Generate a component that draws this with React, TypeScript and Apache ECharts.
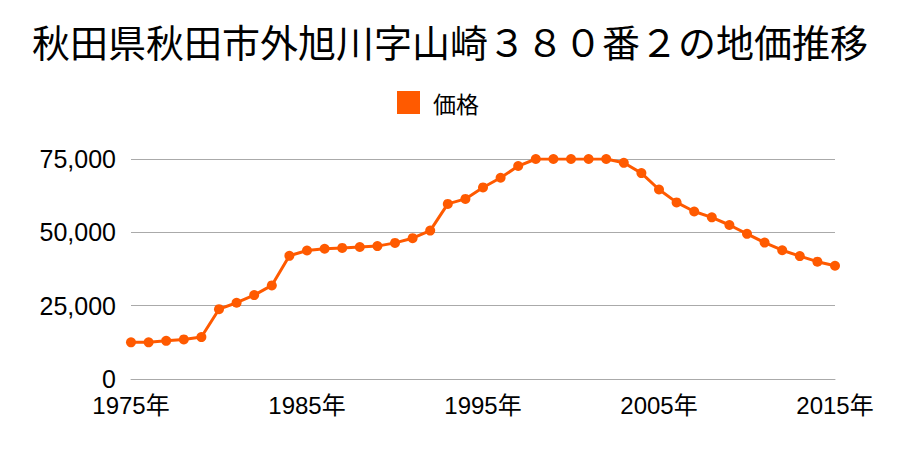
import React, { useEffect, useRef } from "react";
import * as echarts from "echarts";

const years: string[] = [];
for (let y = 1975; y <= 2015; y++) years.push(String(y));

const prices = [
  12500, 12500, 13000, 13500, 14300, 23800, 26000, 28600, 31900, 42000,
  43800, 44400, 44700, 45000, 45300, 46400, 48000, 50600, 59700, 61400,
  65300, 68600, 72600, 75000, 75000, 75000, 75000, 75000, 73700, 70200,
  64600, 60200, 57100, 55100, 52500, 49500, 46500, 43900, 41900, 40000,
  38600,
];

const titleText = "秋田県秋田市外旭川字山崎３８０番２の地価推移";
const seriesName = "価格";

export default function App() {
  const ref = useRef<HTMLDivElement>(null);
  useEffect(() => {
    if (!ref.current) return;
    const chart = echarts.init(ref.current, null, { renderer: "svg" });
    const cjk = "'Noto Sans CJK JP', sans-serif";
    const num = "'Liberation Sans', 'Noto Sans CJK JP', sans-serif";
    chart.setOption({
      animation: false,
      textStyle: { fontFamily: cjk },
      title: {
        text: titleText,
        left: "center",
        top: 16,
        textStyle: { fontSize: 38, fontWeight: "normal", color: "#000", fontFamily: cjk },
      },
      legend: {
        data: [seriesName],
        top: 86,
        left: 392,
        icon: "rect",
        itemWidth: 23,
        itemHeight: 23,
        itemGap: 8,
        textStyle: { fontSize: 23, color: "#000", fontFamily: cjk, padding: [0, 0, 0, 8] },
      },
      grid: { left: 131, right: 65, top: 159, bottom: 71, containLabel: false },
      xAxis: {
        type: "category",
        data: years,
        boundaryGap: false,
        axisLine: { show: true, lineStyle: { color: "#aaa" } },
        axisTick: { show: false },
        axisLabel: {
          interval: 9,
          formatter: (v: string) => v + "年",
          fontSize: 24,
          lineHeight: 24,
          color: "#000",
          margin: 14,
          fontFamily: num,
        },
      },
      yAxis: {
        type: "value",
        min: 0,
        max: 75000,
        interval: 25000,
        axisLine: { show: false },
        axisTick: { show: false },
        splitLine: { lineStyle: { color: "#aaa", width: 1 } },
        axisLabel: {
          fontSize: 25,
          lineHeight: 20,
          color: "#000",
          margin: 15,
          fontFamily: num,
          formatter: (v: number) =>
            v === 0 ? "0" : v.toLocaleString("en-US"),
        },
      },
      series: [
        {
          name: seriesName,
          type: "line",
          data: prices,
          color: "#ff5a00",
          symbol: "circle",
          symbolSize: 10,
          lineStyle: { width: 3, color: "#ff5a00" },
          itemStyle: { color: "#ff5a00" },
        },
      ],
    });
    return () => chart.dispose();
  }, []);
  return <div ref={ref} style={{ width: 900, height: 450, margin: -8 }} />;
}
